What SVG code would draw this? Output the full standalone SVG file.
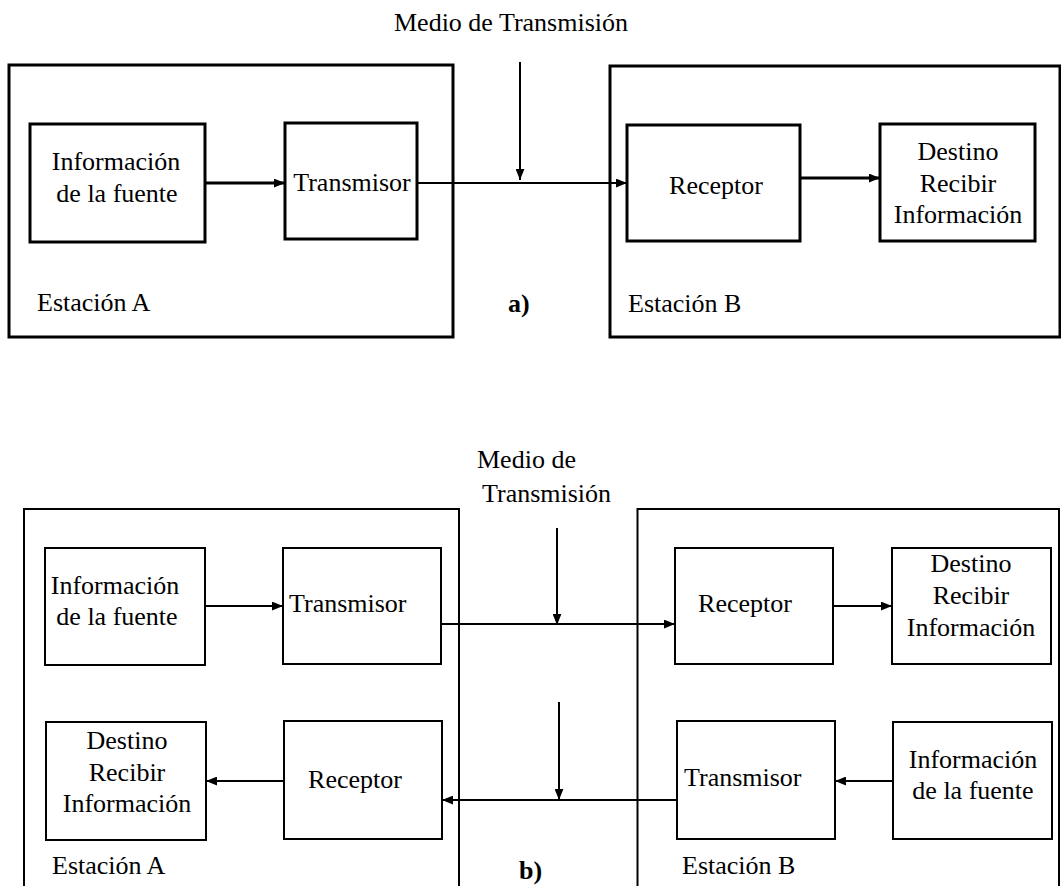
<svg xmlns="http://www.w3.org/2000/svg" width="1061" height="886" viewBox="0 0 1061 886">
<style>
text{font-family:'Liberation Serif','DejaVu Serif',serif;font-size:26px;fill:#000}
.c{text-anchor:middle}
.b{font-weight:bold}
.ba{fill:none;stroke:#000;stroke-width:3}
.bb{fill:none;stroke:#000;stroke-width:2}
.la{fill:none;stroke:#000;stroke-width:3}
.lt{fill:none;stroke:#000;stroke-width:2}
</style>
<defs>
<marker id="ah" markerUnits="userSpaceOnUse" viewBox="0 0 10 8" markerWidth="11" markerHeight="9" refX="10" refY="4" orient="auto">
<path d="M0,0 L10,4 L0,8 Z" fill="#000"/>
</marker>
</defs>
<rect width="1061" height="886" fill="#fff"/>

<!-- Part a -->
<text id="title-a" class="c" x="511" y="31">Medio de Transmisión</text>
<g id="estacionA-a"><rect class="ba" x="9" y="65" width="444" height="272"/><text x="37" y="311">Estación A</text></g>
<g id="estacionB-a"><rect class="ba" x="610" y="66" width="450" height="271"/><text x="628" y="312">Estación B</text></g>
<g id="info-a"><rect class="ba" x="30" y="124" width="175" height="118"/><text class="c" x="116" y="170">Información</text><text class="c" x="117" y="202">de la fuente</text></g>
<g id="trans-a"><rect class="ba" x="285" y="123" width="132" height="116"/><text class="c" x="352" y="191">Transmisor</text></g>
<g id="recep-a"><rect class="ba" x="627" y="125" width="173" height="116"/><text class="c" x="716" y="194">Receptor</text></g>
<g id="dest-a"><rect class="ba" x="880" y="124" width="155" height="117"/><text class="c" x="958" y="160">Destino</text><text class="c" x="958" y="192">Recibir</text><text class="c" x="958" y="223">Información</text></g>
<text id="label-a" class="b" x="508" y="312">a)</text>

<!-- Part b -->
<text id="title-b1" x="477" y="468">Medio de</text>
<text id="title-b2" x="482" y="502">Transmisión</text>
<g id="estacionA-b"><path class="bb" d="M24,890 V509 H459 V890"/><text x="52" y="874">Estación A</text></g>
<g id="estacionB-b"><path class="bb" d="M637.5,890 V509 H1059 V890"/><text x="682" y="874">Estación B</text></g>
<g id="info-bA"><rect class="bb" x="45" y="548" width="160" height="117"/><text class="c" x="115" y="594">Información</text><text class="c" x="117" y="625">de la fuente</text></g>
<g id="trans-bA"><rect class="bb" x="283" y="548" width="158" height="116"/><text x="289" y="612">Transmisor</text></g>
<g id="dest-bA"><rect class="bb" x="46" y="722" width="160" height="118"/><text class="c" x="127" y="749">Destino</text><text class="c" x="127" y="781">Recibir</text><text class="c" x="127" y="812">Información</text></g>
<g id="recep-bA"><rect class="bb" x="284" y="721" width="158" height="118"/><text class="c" x="355" y="788">Receptor</text></g>
<g id="recep-bB"><rect class="bb" x="675" y="548" width="158" height="116"/><text class="c" x="745" y="612">Receptor</text></g>
<g id="dest-bB"><rect class="bb" x="892" y="548" width="159" height="116"/><text class="c" x="971" y="572">Destino</text><text class="c" x="971" y="604">Recibir</text><text class="c" x="971" y="636">Información</text></g>
<g id="trans-bB"><rect class="bb" x="677" y="721" width="158" height="118"/><text x="684" y="786">Transmisor</text></g>
<g id="info-bB"><rect class="bb" x="893" y="722" width="159" height="117"/><text class="c" x="973" y="768">Información</text><text class="c" x="973" y="799">de la fuente</text></g>
<text id="label-b" class="b" x="519" y="879">b)</text>

<g id="connectors">
<line class="la" x1="205" y1="183" x2="285" y2="183" marker-end="url(#ah)"/>
<line class="lt" x1="417" y1="183" x2="627" y2="183" marker-end="url(#ah)"/>
<line class="la" x1="800" y1="178" x2="880" y2="178" marker-end="url(#ah)"/>
<line class="lt" x1="520" y1="62" x2="520" y2="180" marker-end="url(#ah)"/>

<line class="lt" x1="205" y1="606" x2="283" y2="606" marker-end="url(#ah)"/>
<line class="lt" x1="441" y1="624" x2="675" y2="624" marker-end="url(#ah)"/>
<line class="lt" x1="557" y1="528" x2="557" y2="625" marker-end="url(#ah)"/>
<line class="lt" x1="833" y1="606" x2="892" y2="606" marker-end="url(#ah)"/>
<line class="lt" x1="893" y1="781" x2="835" y2="781" marker-end="url(#ah)"/>
<line class="lt" x1="677" y1="800" x2="442" y2="800" marker-end="url(#ah)"/>
<line class="lt" x1="559" y1="702" x2="559" y2="800" marker-end="url(#ah)"/>
<line class="lt" x1="284" y1="781" x2="206" y2="781" marker-end="url(#ah)"/>
</g>
</svg>
